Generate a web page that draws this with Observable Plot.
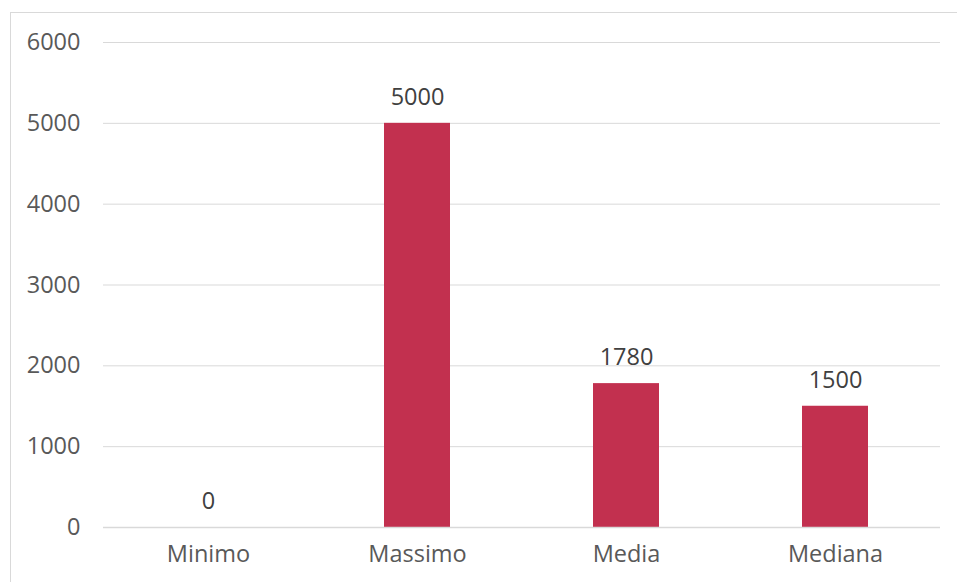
<!DOCTYPE html>
<html>
<head>
<meta charset="utf-8">
<script src="https://cdn.jsdelivr.net/npm/d3@7"></script>
<script src="https://cdn.jsdelivr.net/npm/@observablehq/plot@0.6"></script>
<style>
  html, body { margin: 0; padding: 0; background: #fff; }
  #wrap { position: relative; width: 957px; height: 582px; overflow: hidden; }
  #frame { position: absolute; left: 10px; top: 12px; width: 1000px; height: 700px; border: 1px solid #d9d9d9; box-sizing: border-box; }
  #chart { position: absolute; left: 0; top: 0; }
</style>
</head>
<body>
<div id="wrap"><div id="frame"></div><div id="chart"></div></div>
<script>
const categories = ["Minimo", "Massimo", "Media", "Mediana"];
const values = [0, 5000, 1780, 1500];
const yTicks = [0, 1000, 2000, 3000, 4000, 5000, 6000];

const data = categories.map((c, i) => ({ category: c, value: values[i] }));

const font = "'Open Sans', Lato, sans-serif";

const plot = Plot.plot({
  width: 957,
  height: 582,
  marginLeft: 103,
  marginRight: 17,
  marginTop: 42,
  marginBottom: 55,
  style: { fontFamily: font, fontSize: "23.5px", color: "#595959", background: "transparent" },
  x: { domain: categories, paddingInner: 0.685, paddingOuter: 0.3425, align: 0.5, label: null, tickSize: 0 },
  y: { domain: [0, 6000], ticks: yTicks, label: null, tickSize: 0, grid: false },
  marks: [
    Plot.gridY(yTicks, { stroke: "#d9d9d9", strokeOpacity: 1, strokeWidth: 1 }),
    Plot.barY(data, { x: "category", y: "value", fill: "#c2304f" }),
    Plot.ruleY([0], { stroke: "#d9d9d9", strokeWidth: 1.5 }),
    Plot.text(data, { x: "category", y: "value", text: d => String(d.value), dy: -26, fill: "#404040", fontSize: 23.5 }),
    Plot.axisX({ tickSize: 0, tickPadding: 18, fontSize: 23.5, fill: "#595959" }),
    Plot.axisY({ ticks: yTicks, tickSize: 0, tickPadding: 23, fontSize: 23.5, fill: "#595959", tickFormat: d => String(d) })
  ]
});
document.getElementById("chart").appendChild(plot);
</script>
</body>
</html>
